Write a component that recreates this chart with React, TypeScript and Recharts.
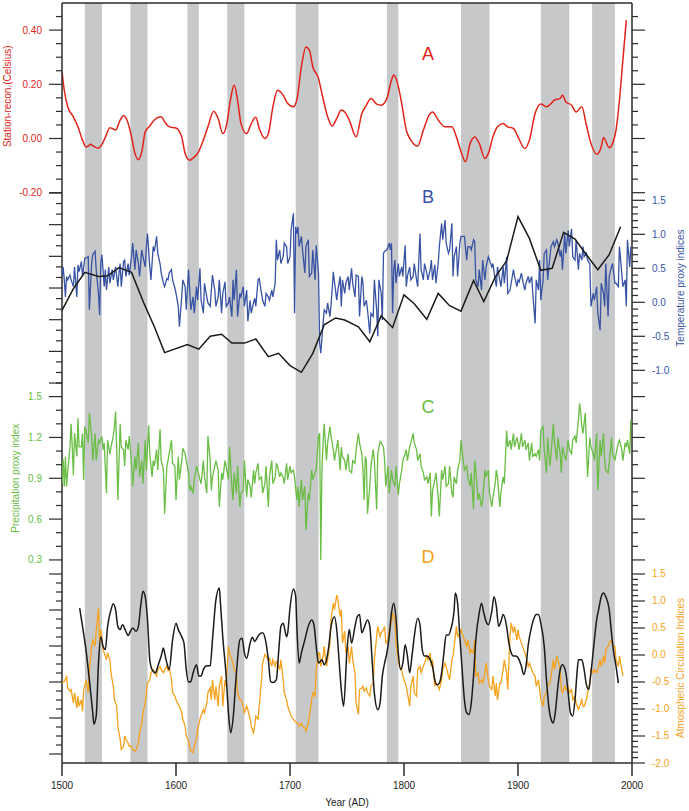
import React from "react";
import {
  ComposedChart,
  Line,
  XAxis,
  YAxis,
  ReferenceArea,
  ReferenceLine,
  ReferenceDot,
} from "recharts";

const WIDTH = 689;
const HEIGHT = 811;
const FONT = "'Liberation Sans', Arial, Helvetica, sans-serif";
const AXIS = "#2b2b2b";
const RED = "#e2231a";
const BLUE = "#3853a3";
const GREEN = "#6abd45";
const ORANGE = "#f5a21c";
const BLACK = "#1b1b1b";
const BAND = "#c7c8ca";

// ---- data: [year, value] ----
const stationRecon = [
  [1500, 0.246], [1502, 0.178], [1505, 0.117], [1510, 0.08], [1514, 0.043], [1518, -0.006], [1521, -0.031],
  [1523, -0.028], [1525, -0.021], [1527, -0.027], [1532, -0.036], [1534, -0.028], [1538, 0.004], [1542, 0.04],
  [1544, 0.037], [1547, 0.031], [1551, 0.068], [1554, 0.084], [1557, 0.068], [1561, 0.006], [1564, -0.055],
  [1567, -0.078], [1570, -0.049], [1573, 0.025], [1577, 0.046], [1581, 0.068], [1587, 0.08], [1590, 0.062],
  [1594, 0.043], [1600, 0.039], [1605, 0.006], [1608, -0.055], [1612, -0.08], [1616, -0.068], [1619, -0.055],
  [1624, -0.006], [1628, 0.043], [1633, 0.101], [1637, 0.074], [1641, 0.018], [1644, 0.043], [1648, 0.148],
  [1651, 0.197], [1654, 0.142], [1657, 0.055], [1662, 0.018], [1666, 0.055], [1670, 0.078], [1673, 0.037],
  [1678, 0], [1681, 0.018], [1685, 0.117], [1689, 0.178], [1694, 0.16], [1698, 0.129], [1703, 0.117],
  [1706, 0.142], [1710, 0.265], [1714, 0.338], [1717, 0.326], [1720, 0.265], [1725, 0.222], [1728, 0.166],
  [1733, 0.08], [1737, 0.046], [1741, 0.074], [1745, 0.105], [1748, 0.098], [1752, 0.068], [1758, 0.006],
  [1763, 0.092], [1767, 0.123], [1771, 0.148], [1776, 0.127], [1780, 0.123], [1785, 0.148], [1789, 0.215],
  [1791, 0.234], [1794, 0.209], [1798, 0.129], [1802, 0.031], [1806, -0.006], [1812, -0.028], [1817, 0.031],
  [1822, 0.086], [1825, 0.098], [1830, 0.068], [1836, 0.043], [1842, 0.043], [1846, 0.006], [1850, -0.049],
  [1854, -0.086], [1858, -0.018], [1862, 0.006], [1866, -0.018], [1871, -0.074], [1874, -0.055], [1878, 0.006],
  [1882, 0.043], [1887, 0.055], [1891, 0.043], [1896, 0.037], [1900, 0.006], [1906, -0.037], [1910, -0.006],
  [1915, 0.092], [1920, 0.127], [1925, 0.117], [1929, 0.129], [1932, 0.142], [1937, 0.148], [1939, 0.16],
  [1942, 0.135], [1947, 0.123], [1951, 0.098], [1956, 0.117], [1960, 0.049], [1964, -0.018], [1969, -0.058],
  [1973, -0.031], [1975, 0.004], [1980, -0.034], [1983, -0.018], [1986, 0.031], [1989, 0.142], [1992, 0.289],
  [1995, 0.437],
];

const tempProxy = [
  [1500, 0.38], [1501, 0.52], [1502, 0.33], [1503, 0.08], [1504, 0.38], [1505, 0.33], [1507, 0.4], [1508, 0.33],
  [1510, 0.23], [1511, 0.52], [1513, 0.08], [1514, 0.55], [1515, 0.45], [1517, 0.6], [1518, 0.38], [1520, 0.65],
  [1521, 0.65], [1523, 0.67], [1524, -0.11], [1526, 0.57], [1527, 0.7], [1529, 0.75], [1530, 0.48], [1532, 0.13],
  [1533, -0.19], [1534, 0.57], [1535, 0.7], [1537, 0.23], [1538, 0.48], [1539, 0.18], [1541, 0.52], [1542, 0.28],
  [1544, 0.48], [1545, 0.33], [1547, 0.52], [1549, 0.23], [1550, 0.43], [1551, 0.57], [1552, 0.23], [1554, 0.6],
  [1555, 0.62], [1556, 0.38], [1558, 0.57], [1559, 0.4], [1561, 0.67], [1562, 0.87], [1564, 0.48], [1565, 0.77],
  [1567, 0.57], [1568, 0.38], [1570, 0.77], [1571, 0.67], [1573, 0.52], [1574, 0.82], [1575, 1.01], [1577, 0.52],
  [1578, 0.33], [1580, 0.82], [1581, 0.75], [1583, 0.97], [1584, 0.72], [1586, 0.57], [1587, 0.43], [1589, 0.28],
  [1590, 0.23], [1592, 0.35], [1593, 0.33], [1594, 0.43], [1596, 0.48], [1597, 0.33], [1599, 0.21], [1600, 0.13],
  [1602, -0.06], [1603, -0.36], [1605, 0.08], [1606, 0.33], [1608, 0.23], [1609, -0.11], [1611, 0.48], [1612, 0.18],
  [1613, -0.11], [1615, 0.08], [1616, -0.16], [1618, 0.23], [1619, 0.03], [1621, 0.5], [1622, 0.03], [1624, -0.16],
  [1625, 0.28], [1627, 0.08], [1628, -0.01], [1630, -0.06], [1631, 0.18], [1632, 0.4], [1634, 0.18], [1635, -0.06],
  [1637, 0.08], [1638, 0.33], [1640, -0.16], [1641, 0.13], [1643, 0.3], [1644, -0.06], [1646, -0.01], [1647, 0.08],
  [1649, -0.21], [1650, 0.33], [1651, 0.03], [1653, 0.48], [1654, -0.21], [1656, 0.13], [1657, 0.08], [1659, 0.23],
  [1660, -0.06], [1662, 0.18], [1663, -0.28], [1665, 0.03], [1666, -0.16], [1668, -0.01], [1669, 0.06], [1670, -0.06],
  [1672, 0.33], [1673, 0.35], [1675, 0.13], [1676, 0.03], [1678, -0.06], [1679, 0.13], [1681, 0.08], [1682, 0.03],
  [1684, 0.18], [1685, 0.08], [1687, 0.28], [1688, 0.92], [1689, 0.62], [1691, 0.77], [1692, 0.57], [1694, 0.67],
  [1695, 0.87], [1697, 0.82], [1698, 0.57], [1700, 0.67], [1701, 1.06], [1703, 1.31], [1704, -0.16], [1705, 1.11],
  [1706, 1.01], [1707, 1.11], [1708, 0.82], [1710, 0.97], [1711, 0.77], [1713, 0.43], [1714, 0.82], [1716, 0.92],
  [1717, 0.38], [1719, 0.43], [1720, 0.77], [1722, 0.33], [1723, 0.84], [1725, 0.43], [1726, -0.6], [1727, -0.75],
  [1729, -0.31], [1730, -0.11], [1732, -0.16], [1733, -0.01], [1735, -0.21], [1736, -0.04], [1738, 0.45], [1739, 0.3],
  [1741, 0.03], [1742, 0.18], [1744, 0.38], [1745, -0.06], [1746, 0.33], [1748, 0.13], [1749, 0.28], [1751, 0.38],
  [1752, 0.18], [1754, 0.5], [1755, 0.28], [1757, 0.08], [1758, 0.4], [1760, 0.38], [1761, -0.21], [1763, 0.38],
  [1764, 0.28], [1765, -0.06], [1767, 0.03], [1768, -0.11], [1770, -0.46], [1771, -0.16], [1773, -0.21], [1774, 0.33],
  [1776, -0.11], [1777, -0.5], [1778, 0.33], [1780, 0.13], [1781, -0.26], [1782, 0.72], [1783, 0.75], [1785, 0.77],
  [1786, 0.82], [1787, 0.87], [1788, 0.77], [1789, 0.87], [1790, -0.16], [1791, 0.48], [1792, 0.62], [1793, 0.28],
  [1795, 0.57], [1796, 0.38], [1798, 0.52], [1799, 0.38], [1801, 0.84], [1802, 0.23], [1803, 0.38], [1805, 0.52],
  [1806, 0.33], [1808, 0.38], [1809, 0.57], [1811, 0.33], [1812, 0.23], [1814, 1.01], [1815, 0.48], [1817, 0.33],
  [1818, 0.57], [1820, 0.43], [1821, 0.33], [1823, 0.48], [1824, 0.62], [1825, 0.33], [1827, 0.55], [1828, 0.28],
  [1830, 0.57], [1831, 0.82], [1833, 1.16], [1834, 0.92], [1836, 1.21], [1837, 0.87], [1839, 0.72], [1840, 0.77],
  [1842, 1.16], [1843, 0.38], [1844, 0.67], [1846, 0.82], [1847, 0.38], [1849, 0.87], [1850, 0.97], [1852, 0.97],
  [1853, 0.97], [1855, 0.62], [1856, 0.82], [1858, 0.82], [1859, 0.77], [1861, 0.92], [1862, 0.89], [1863, 0.33],
  [1865, 0.23], [1866, 0.48], [1868, 0.18], [1869, 0.62], [1871, 0.33], [1872, 0.52], [1874, 0.67], [1875, 0.62],
  [1877, 0.52], [1878, 0.57], [1880, 0.33], [1881, 0.23], [1882, 0.52], [1884, 0.33], [1885, 0.23], [1887, 0.52],
  [1888, 0.28], [1890, 0.67], [1891, 0.13], [1893, 0.18], [1894, 0.28], [1896, 0.48], [1897, 0.38], [1899, 0.23],
  [1900, 0.33], [1901, 0.3], [1903, 0.43], [1904, 0.33], [1906, 0.18], [1907, 0.28], [1909, 0.38], [1910, 0.28],
  [1912, 0.38], [1913, 0.13], [1915, -0.31], [1916, 0.33], [1918, 0.18], [1919, 0.62], [1920, 0.03], [1922, 0.33],
  [1923, 0.72], [1925, 0.77], [1926, 0.33], [1928, 0.67], [1929, 0.82], [1931, 0.89], [1932, 0.82], [1934, 0.92],
  [1935, 0.87], [1937, 0.67], [1938, 0.77], [1939, 0.48], [1941, 1.01], [1942, 0.72], [1944, 1.06], [1945, 0.82],
  [1947, 1.08], [1948, 0.67], [1950, 0.62], [1951, 0.92], [1953, 0.48], [1954, 0.72], [1956, 0.62], [1957, 0.82],
  [1958, 0.67], [1960, 0.72], [1961, 0.62], [1963, 0.57], [1964, -0.06], [1966, 0.13], [1967, 0.03], [1969, 0.23],
  [1970, -0.16], [1972, -0.41], [1973, 0.28], [1975, 0.13], [1976, -0.06], [1977, 0.57], [1979, -0.21], [1980, 0.38],
  [1982, 0.52], [1983, 0.57], [1985, 0.28], [1986, 0.28], [1988, 0.23], [1989, 0.82], [1991, 0.43], [1992, 0.23],
  [1994, 0.33], [1995, -0.06], [1996, 0.92], [1998, 0.52], [1999, 0.82],
];

const tempBlack = [
  [1500, -0.12], [1510, 0.2], [1520, 0.44], [1532, 0.38], [1540, 0.39], [1550, 0.51], [1561, 0.44], [1572, -0.02],
  [1581, -0.36], [1590, -0.74], [1610, -0.62], [1620, -0.69], [1630, -0.5], [1640, -0.47], [1649, -0.6], [1660, -0.6],
  [1670, -0.54], [1681, -0.8], [1690, -0.75], [1700, -0.93], [1710, -1.03], [1720, -0.75], [1730, -0.33], [1740, -0.23],
  [1748, -0.26], [1760, -0.36], [1770, -0.58], [1780, -0.2], [1790, -0.37], [1800, 0.11], [1809, -0.02], [1820, -0.25],
  [1830, 0.13], [1840, -0.05], [1850, -0.13], [1861, 0.32], [1870, 0.01], [1880, 0.37], [1890, 0.61], [1900, 1.26],
  [1910, 0.94], [1920, 0.47], [1930, 0.5], [1940, 1.03], [1950, 0.93], [1960, 0.7], [1970, 0.48], [1980, 0.7],
  [1990, 1.11],
];

const precipProxy = [
  [1500, 0.86], [1501, 1.04], [1502, 0.84], [1503, 1.06], [1504, 0.84], [1505, 0.95], [1507, 1.13], [1508, 1.3],
  [1509, 1.13], [1510, 0.92], [1511, 1.23], [1513, 1.06], [1514, 1.34], [1515, 1.13], [1517, 1.13], [1518, 1.23],
  [1519, 0.89], [1520, 1.28], [1521, 1.25], [1523, 1.16], [1524, 1.38], [1526, 1.21], [1527, 1.03], [1529, 1.23],
  [1530, 1.03], [1532, 1.18], [1533, 1.16], [1535, 1.21], [1536, 1.11], [1537, 1.16], [1539, 0.79], [1540, 1.18],
  [1542, 1.08], [1543, 1.13], [1545, 1.21], [1546, 1.28], [1547, 1.39], [1548, 1.11], [1549, 0.74], [1551, 1.3],
  [1552, 1.13], [1554, 1.11], [1555, 0.99], [1556, 1.18], [1558, 1.11], [1559, 1.21], [1561, 1.01], [1562, 0.84],
  [1564, 1.06], [1565, 0.96], [1567, 1.16], [1568, 0.91], [1570, 1.03], [1571, 0.86], [1573, 1.18], [1574, 0.96],
  [1576, 1.29], [1577, 1.08], [1579, 0.91], [1580, 1.03], [1581, 0.99], [1583, 1.11], [1584, 0.96], [1586, 1.26],
  [1587, 1.03], [1589, 0.96], [1590, 0.64], [1592, 0.99], [1593, 1.03], [1594, 1.08], [1596, 1.18], [1597, 1.01],
  [1599, 0.99], [1600, 0.74], [1602, 1.06], [1603, 0.89], [1605, 1.03], [1606, 1.12], [1608, 1.08], [1609, 1.03],
  [1611, 0.94], [1612, 0.81], [1613, 0.84], [1615, 0.79], [1616, 0.89], [1618, 0.99], [1619, 0.96], [1621, 0.89],
  [1622, 0.86], [1624, 1.03], [1625, 0.91], [1627, 0.79], [1628, 1.21], [1630, 1.03], [1631, 0.81], [1632, 0.91],
  [1634, 0.99], [1635, 1.03], [1637, 0.96], [1638, 0.69], [1640, 0.94], [1641, 0.89], [1643, 1.03], [1644, 0.99],
  [1646, 0.89], [1647, 1.13], [1649, 0.84], [1650, 0.74], [1651, 0.94], [1653, 0.79], [1654, 0.99], [1656, 0.69],
  [1657, 0.79], [1659, 0.81], [1660, 1.03], [1662, 0.76], [1663, 0.89], [1665, 0.84], [1666, 0.76], [1668, 0.96],
  [1669, 0.86], [1670, 0.94], [1672, 1.01], [1673, 0.89], [1675, 0.91], [1676, 0.79], [1678, 0.86], [1679, 0.99],
  [1681, 0.69], [1682, 0.91], [1684, 1.03], [1685, 0.86], [1687, 0.91], [1688, 1.01], [1689, 0.99], [1691, 0.91],
  [1692, 0.94], [1694, 0.91], [1695, 0.86], [1697, 1.01], [1698, 0.89], [1700, 0.99], [1701, 0.94], [1703, 0.96],
  [1704, 0.91], [1706, 0.74], [1707, 0.84], [1708, 0.69], [1710, 0.89], [1711, 0.74], [1713, 0.84], [1714, 0.52],
  [1716, 0.79], [1717, 0.74], [1719, 0.96], [1720, 0.89], [1722, 0.94], [1723, 0.96], [1725, 1.21], [1726, 1.23],
  [1727, 0.3], [1728, 0.96], [1729, 1.16], [1730, 1.3], [1732, 1.03], [1733, 1.16], [1735, 1.28], [1736, 1.21],
  [1738, 1.11], [1739, 1.03], [1741, 1.13], [1742, 1.18], [1744, 0.96], [1745, 1.13], [1746, 1.06], [1748, 1.03],
  [1749, 0.96], [1751, 1.08], [1752, 0.96], [1754, 0.94], [1755, 1.03], [1757, 1.01], [1758, 1.11], [1760, 1.23],
  [1761, 1.16], [1763, 1.08], [1764, 0.96], [1765, 0.74], [1766, 1.06], [1767, 1.03], [1768, 0.64], [1770, 0.84],
  [1771, 0.99], [1773, 1.11], [1774, 1.03], [1776, 0.67], [1777, 1.08], [1779, 1.17], [1780, 1.16], [1782, 1.13],
  [1783, 1.03], [1784, 0.84], [1786, 0.99], [1787, 0.79], [1789, 0.96], [1790, 0.89], [1792, 0.84], [1793, 0.99],
  [1795, 0.78], [1796, 0.86], [1798, 0.96], [1799, 1.03], [1801, 1.08], [1802, 1.11], [1803, 1.03], [1805, 1.13],
  [1806, 1.16], [1808, 1.23], [1809, 1.16], [1811, 1.11], [1812, 1.03], [1814, 1.08], [1815, 0.99], [1817, 0.94],
  [1818, 0.89], [1820, 0.91], [1821, 0.86], [1823, 0.94], [1824, 0.62], [1825, 0.81], [1827, 0.89], [1828, 0.94],
  [1830, 0.76], [1831, 0.62], [1833, 0.96], [1834, 0.89], [1836, 0.99], [1837, 0.84], [1839, 0.86], [1840, 0.99],
  [1842, 0.79], [1843, 0.76], [1844, 0.91], [1846, 0.86], [1847, 0.96], [1849, 1.03], [1850, 1.18], [1852, 1.03],
  [1853, 0.96], [1855, 0.99], [1856, 0.91], [1858, 0.84], [1859, 0.94], [1861, 0.67], [1862, 1.03], [1863, 0.96],
  [1865, 0.74], [1866, 0.79], [1868, 0.69], [1869, 0.74], [1871, 0.96], [1872, 0.91], [1874, 0.96], [1875, 0.79],
  [1877, 0.69], [1878, 0.76], [1880, 0.86], [1881, 0.96], [1882, 0.91], [1884, 0.69], [1885, 0.79], [1887, 0.91],
  [1888, 0.86], [1890, 1.25], [1891, 1.13], [1893, 1.18], [1894, 1.11], [1896, 1.23], [1897, 1.13], [1899, 1.2],
  [1900, 1.16], [1901, 1.11], [1903, 1.23], [1904, 1.13], [1906, 1.18], [1907, 1.11], [1909, 1.16], [1910, 1.03],
  [1912, 1.16], [1913, 1.06], [1915, 1.08], [1916, 1.06], [1918, 1.11], [1919, 1.03], [1920, 1.25], [1922, 1.28],
  [1923, 1.11], [1925, 0.94], [1926, 1.2], [1928, 0.99], [1929, 1.08], [1931, 1.3], [1932, 1.16], [1934, 1.03],
  [1935, 1.2], [1937, 1.08], [1938, 0.94], [1939, 1.13], [1941, 1.06], [1942, 1.03], [1944, 1.18], [1945, 1.11],
  [1947, 1.08], [1948, 1.18], [1950, 1.21], [1951, 1.16], [1953, 1.33], [1954, 1.45], [1955, 1.38], [1956, 1.28],
  [1957, 1.23], [1959, 1.38], [1960, 1.16], [1961, 0.91], [1963, 1.2], [1964, 1.13], [1966, 1.08], [1967, 1.03],
  [1969, 1.23], [1970, 0.81], [1972, 1.18], [1973, 1.06], [1975, 1.23], [1976, 1.03], [1977, 0.96], [1979, 0.94],
  [1980, 1.01], [1982, 1.2], [1983, 1.08], [1985, 1.03], [1986, 1.08], [1988, 1.16], [1989, 1.18], [1991, 1.11],
  [1992, 1.03], [1994, 1.16], [1995, 1.13], [1996, 1.18], [1998, 1.08], [1999, 1.33],
];

const circIndex = [
  [1500, -0.52], [1502, -0.49], [1504, -0.4], [1505, -0.61], [1507, -0.67], [1508, -0.64], [1510, -0.89], [1511, -0.7],
  [1513, -0.98], [1514, -0.76], [1515, -0.95], [1517, -0.83], [1518, -1.04], [1519, -0.64], [1520, -0.58], [1521, -0.46],
  [1523, -0.7], [1524, -0.27], [1526, 0.16], [1527, 0.28], [1529, 0.16], [1530, 0.44], [1532, 0.87], [1533, 0.22],
  [1534, 0.47], [1535, 0.31], [1536, 0.1], [1537, 0.04], [1539, -0.09], [1540, 0.04], [1542, -0.09], [1543, -0.33],
  [1545, -0.58], [1546, -0.83], [1548, -0.95], [1549, -1.32], [1551, -1.56], [1552, -1.75], [1554, -1.69], [1555, -1.5],
  [1556, -1.56], [1558, -1.63], [1559, -1.69], [1561, -1.69], [1562, -1.75], [1564, -1.78], [1565, -1.75], [1567, -1.63],
  [1568, -1.44], [1570, -1.26], [1571, -1.07], [1573, -0.89], [1574, -0.7], [1575, -0.52], [1577, -0.46], [1578, -0.33],
  [1580, -0.27], [1581, -0.33], [1583, -0.39], [1584, -0.27], [1586, -0.21], [1587, -0.27], [1589, -0.33], [1590, -0.27],
  [1592, -0.21], [1593, -0.3], [1594, -0.21], [1596, -0.46], [1597, -0.7], [1599, -0.76], [1600, -0.83], [1602, -0.92],
  [1603, -0.95], [1605, -1.07], [1606, -1.19], [1608, -1.32], [1609, -1.5], [1611, -1.59], [1612, -1.72], [1613, -1.78],
  [1615, -1.81], [1616, -1.69], [1618, -1.56], [1619, -1.38], [1621, -1.19], [1622, -1.13], [1624, -1.01], [1625, -1.07],
  [1627, -0.89], [1628, -0.7], [1630, -0.61], [1631, -0.83], [1632, -0.46], [1634, -0.83], [1635, -0.58], [1637, -0.95],
  [1638, -0.58], [1640, -0.39], [1641, -0.95], [1643, -0.46], [1644, -0.58], [1646, 0.16], [1647, 0.04], [1649, -0.09],
  [1650, -0.15], [1651, -0.27], [1653, -0.33], [1654, -0.7], [1656, -0.83], [1657, -0.83], [1659, -0.95], [1660, -1.07],
  [1662, -0.95], [1663, -1.01], [1665, -1.19], [1666, -1.32], [1668, -1.44], [1669, -1.32], [1670, -1.13], [1672, -1.19],
  [1673, -0.95], [1675, -0.46], [1676, -0.15], [1678, 0.01], [1679, -0.02], [1681, -0.09], [1682, -0.06], [1684, -0.21],
  [1685, -0.09], [1687, -0.21], [1688, -0.12], [1689, -0.15], [1691, -0.27], [1692, -0.09], [1694, -0.46], [1695, -0.7],
  [1697, -0.83], [1698, -0.95], [1700, -1.07], [1701, -1.13], [1703, -1.19], [1704, -1.22], [1706, -1.26], [1707, -1.26],
  [1708, -1.32], [1710, -1.26], [1711, -1.32], [1713, -1.35], [1714, -1.41], [1716, -1.26], [1717, -1.13], [1719, -0.83],
  [1720, -0.7], [1722, -0.76], [1723, -0.27], [1725, 0.04], [1726, 0.04], [1727, -0.21], [1729, -0.02], [1730, 0.16],
  [1732, -0.21], [1733, -0.09], [1735, 0.22], [1736, 0.65], [1738, 0.96], [1739, 0.84], [1741, 1.11], [1742, 1.02],
  [1744, 0.71], [1745, 0.84], [1746, 0.22], [1748, 0.44], [1749, 0.04], [1751, 0.16], [1752, -0.15], [1754, 0.16],
  [1755, -0.09], [1757, -0.33], [1758, -0.89], [1760, -1.1], [1761, -0.64], [1763, -0.61], [1764, -0.58], [1765, -0.67],
  [1767, -0.61], [1768, -0.7], [1770, -0.76], [1771, -0.58], [1773, -0.52], [1774, -0.09], [1776, 0.34], [1777, 0.53],
  [1779, 0.34], [1780, 0.41], [1782, 0.47], [1783, 0.53], [1784, 0.22], [1786, 0.28], [1787, 0.47], [1789, 0.59],
  [1790, 0.78], [1792, 0.65], [1793, 0.22], [1795, -0.09], [1796, -0.21], [1798, -0.27], [1799, -0.39], [1801, -0.52],
  [1802, -0.58], [1803, -0.7], [1805, -0.95], [1806, -0.58], [1808, -0.39], [1809, -0.7], [1811, -0.76], [1812, -0.27],
  [1814, -0.21], [1815, -0.33], [1817, -0.21], [1818, -0.15], [1820, -0.02], [1821, -0.09], [1823, 0.04], [1824, -0.21],
  [1825, -0.09], [1827, -0.58], [1828, -0.52], [1830, -0.58], [1831, -0.64], [1833, -0.46], [1834, -0.27], [1836, -0.15],
  [1837, -0.21], [1839, -0.39], [1840, -0.46], [1842, -0.09], [1843, -0.02], [1844, 0.16], [1846, 0.53], [1847, 0.34],
  [1849, 0.41], [1850, 0.47], [1852, 0.34], [1853, 0.28], [1855, 0.16], [1856, 0.28], [1858, 0.04], [1859, 0.1],
  [1861, 0.04], [1862, 0.28], [1863, -0.39], [1865, -0.33], [1866, -0.52], [1868, -0.46], [1869, -0.52], [1871, -0.33],
  [1872, -0.15], [1874, -0.46], [1875, -0.58], [1877, -0.64], [1878, -0.39], [1880, -0.76], [1881, -0.52], [1882, -0.83],
  [1884, -0.52], [1885, -0.52], [1887, -0.27], [1888, -0.09], [1890, -0.33], [1891, -0.64], [1893, 0.34], [1894, 0.59],
  [1896, 0.41], [1897, 0.53], [1899, 0.28], [1900, 0.47], [1901, 0.34], [1903, 0.22], [1904, 0.16], [1906, 0.04],
  [1907, -0.02], [1909, -0.21], [1910, -0.15], [1912, -0.27], [1913, -0.33], [1915, -0.39], [1916, -0.58], [1918, -0.46],
  [1919, -0.64], [1920, -0.83], [1922, -0.95], [1923, -0.76], [1925, -0.7], [1926, -0.58], [1928, -0.52], [1929, -0.39],
  [1931, -0.09], [1932, -0.27], [1934, -0.02], [1935, -0.09], [1937, -0.27], [1938, -0.64], [1939, -0.7], [1941, -0.58],
  [1942, -0.64], [1944, -0.58], [1945, -0.7], [1947, -0.64], [1948, -0.83], [1950, -0.76], [1951, -0.89], [1953, -1.01],
  [1954, -0.95], [1956, -0.83], [1957, -0.95], [1958, -0.95], [1960, -0.83], [1961, -0.7], [1963, -0.52], [1964, -0.27],
  [1966, -0.33], [1967, -0.27], [1969, -0.33], [1970, -0.27], [1972, -0.09], [1973, -0.21], [1975, -0.02], [1976, -0.15],
  [1977, 0.1], [1979, 0.16], [1980, 0.22], [1982, 0.28], [1983, 0.16], [1985, 0.16], [1986, -0.09], [1988, -0.21],
  [1989, -0.02], [1991, -0.27], [1992, -0.39],
];

const circBlack = [
  [1515.5, 0.87], [1518, 0.53], [1521, 0.1], [1524, -0.46], [1527, -1.07], [1528, -1.28], [1530, -1.13], [1532, -0.15],
  [1534, 0.34], [1536, 0.16], [1538, 0.1], [1540, 0.53], [1543, 0.84], [1545, 0.95], [1547, 0.84], [1549, 0.53],
  [1551, 0.47], [1553, 0.56], [1556, 0.44], [1558, 0.36], [1560, 0.44], [1562, 0.5], [1565, 0.44], [1567, 0.53],
  [1569, 0.9], [1571, 1.18], [1573, 1.08], [1575, 0.65], [1577, -0.09], [1579, -0.27], [1582, -0.33], [1584, -0.21],
  [1587, -0.02], [1589, 0.13], [1590, 0.04], [1592, -0.15], [1594, -0.27], [1597, 0.28], [1600, 0.59], [1602, 0.47],
  [1605, 0.34], [1607, 0.22], [1609, -0.27], [1611, -0.5], [1613, -0.49], [1615, -0.33], [1618, -0.18], [1620, -0.39],
  [1622, -0.39], [1624, -0.27], [1627, -0.2], [1630, -0.2], [1632, 0.28], [1635, 1.02], [1638, 1.24], [1639, 0.96],
  [1641, 0.34], [1644, -0.39], [1646, -1.07], [1648, -1.44], [1650, -1.19], [1653, -0.33], [1656, 0.28], [1658, 0.31],
  [1660, 0.04], [1662, -0.06], [1665, 0.22], [1667, 0.33], [1669, 0.25], [1671, 0.31], [1673, 0.38], [1676, 0.41],
  [1679, 0.22], [1681, -0.09], [1683, -0.49], [1685, -0.51], [1688, -0.46], [1690, 0.04], [1692, 0.53], [1694, 0.59],
  [1697, 0.34], [1698, 0.41], [1700, 0.87], [1703, 1.22], [1705, 1.08], [1706, 0.53], [1708, -0.15], [1710, 0.04],
  [1713, 0.28], [1716, 0.53], [1719, 0.65], [1721, 0.56], [1723, 0.16], [1725, -0.15], [1728, -0.09], [1730, -0.18],
  [1732, -0.09], [1734, 0.16], [1736, 0.53], [1739, 0.71], [1741, 0.47], [1743, -0.09], [1745, -0.64], [1747, -0.95],
  [1750, 0.09], [1752, 0.47], [1754, 0.22], [1757, 0.53], [1759, 0.71], [1761, 0.75], [1763, 0.41], [1765, 0.5],
  [1768, 0.65], [1770, 0.53], [1772, -0.09], [1774, -0.7], [1777, -1.01], [1779, -0.89], [1781, -0.39], [1783, -0.15],
  [1785, 0.04], [1787, 0.34], [1789, 0.78], [1791, 0.96], [1793, 0.68], [1795, 0.04], [1797, -0.27], [1799, -0.15],
  [1801, 0.19], [1803, -0.02], [1805, -0.33], [1807, -0.02], [1809, 0.34], [1812, 0.68], [1814, 0.56], [1816, 0.1],
  [1818, -0.02], [1820, -0.02], [1823, -0.09], [1825, -0.21], [1827, -0.46], [1829, -0.55], [1831, -0.52], [1833, -0.33],
  [1835, 0.04], [1837, 0.37], [1839, 0.37], [1841, 0.47], [1844, 0.84], [1845, 1.15], [1847, 0.96], [1849, 0.34],
  [1851, -0.27], [1853, -0.83], [1855, -1.07], [1857, -1.1], [1859, -0.89], [1861, -0.39], [1863, 0.28], [1866, 0.78],
  [1868, 0.96], [1870, 0.78], [1872, 0.62], [1874, 0.56], [1877, 0.81], [1879, 1.08], [1881, 0.9], [1883, 0.53],
  [1885, 0.62], [1887, 0.75], [1890, 0.53], [1892, 0.22], [1894, 0.04], [1896, -0.02], [1898, -0.02], [1901, -0.09],
  [1903, -0.21], [1905, -0.36], [1907, -0.21], [1909, 0.19], [1912, 0.53], [1914, 0.68], [1916, 0.75], [1918, 0.75],
  [1920, 0.59], [1923, 0.16], [1925, -0.46], [1927, -0.95], [1929, -1.19], [1931, -1.26], [1933, -1.01], [1935, -0.58],
  [1937, -0.27], [1939, -0.18], [1942, -0.33], [1944, -0.7], [1946, -1.07], [1948, -1.13], [1950, -0.83], [1952, -0.27],
  [1953, -0.09], [1956, -0.09], [1958, -0.27], [1960, -0.55], [1962, -0.64], [1964, -0.33], [1967, 0.28], [1969, 0.65],
  [1971, 0.87], [1973, 1.08], [1975, 1.15], [1977, 1.08], [1980, 0.84], [1982, 0.41], [1984, 0.04], [1986, -0.21],
  [1988, -0.52],
];

// shaded periods [start, end]
const bands = [
  [1520, 1535], [1560, 1575], [1610, 1620], [1645, 1660], [1705, 1725],
  [1785, 1795], [1850, 1875], [1920, 1945], [1965, 1985],
];

// ---- ticks ----
const yearTicks = [1500, 1600, 1700, 1800, 1900, 2000];
const redTicks = [0.45, 0.4, 0.35, 0.3, 0.25, 0.2, 0.15, 0.1, 0.05, 0, -0.05, -0.1, -0.15, -0.2];
const redMajor = [0.4, 0.2, 0, -0.2];
const blueTicks = [1.5, 1.4, 1.3, 1.2, 1.1, 1, 0.9, 0.8, 0.7, 0.6, 0.5, 0.4, 0.3, 0.2, 0.1, 0,
  -0.1, -0.2, -0.3, -0.4, -0.5, -0.6, -0.7, -0.8, -0.9, -1];
const blueMajor = [1.5, 1, 0.5, 0, -0.5, -1];
const tempLeftTicks = [0.9, 0.8, 0.7, 0.6, 0.5, 0.4, 0.3, 0.2, 0.1, 0, -0.1, -0.2, -0.3, -0.4, -0.5, -0.6, -0.7, -0.8, -0.9];
const tempLeftMajor = [0.9, 0.6, 0.3, 0, -0.3, -0.6, -0.9];
const greenTicks = [1.6, 1.5, 1.4, 1.3, 1.2, 1.1, 1, 0.9, 0.8, 0.7, 0.6, 0.5, 0.4, 0.3];
const greenMajor = [1.5, 1.2, 0.9, 0.6, 0.3];
const orangeTicks = [1.5, 1.4, 1.3, 1.2, 1.1, 1, 0.9, 0.8, 0.7, 0.6, 0.5, 0.4, 0.3, 0.2, 0.1, 0,
  -0.1, -0.2, -0.3, -0.4, -0.5, -0.6, -0.7, -0.8, -0.9, -1, -1.1, -1.2, -1.3, -1.4, -1.5, -1.6, -1.7, -1.8, -1.9, -2];
const orangeMajor = [1.5, 1, 0.5, 0, -0.5, -1, -1.5, -2];
const circLeftTicks = [2, 1.75, 1.5, 1.25, 1, 0.75, 0.5, 0.25, 0, -0.25, -0.5, -0.75, -1, -1.25, -1.5, -1.75, -2, -2.25, -2.5, -2.75, -3];
const circLeftMajor = [2, 1, 0, -1, -2, -3];

// axis domains: each panel shares the full plot height
const domA = [-2.3044, 0.5];
const domB = [-6.775, 4.4015];
const domBLeft = [-4.498, 2.699];
const domC = [-1.192, 4.392];
const domD = [-2, 12.074];
const domDLeft = [-3.25, 17.861];

const rows = (pairs: number[][]) => pairs.map(([year, v]) => ({ year, v }));

const makeTick = (side: "left" | "right", majors: number[], color?: string, digits = 1) => (props: any) => {
  const { x, y, payload } = props;
  const value = Number(payload.value);
  const major = majors.some((m) => Math.abs(m - value) < 1e-6);
  const dir = side === "left" ? -1 : 1;
  const len = major ? 13 : 6;
  return (
    <g>
      <line x1={x} y1={y} x2={x + dir * len} y2={y} stroke={AXIS} strokeWidth={1.2} />
      {major && color ? (
        <text
          x={x + dir * 20}
          y={y}
          textAnchor={side === "left" ? "end" : "start"}
          dominantBaseline="central"
          fill={color}
          fontSize={10}
          fontFamily={FONT}
        >
          {value.toFixed(digits)}
        </text>
      ) : null}
    </g>
  );
};

const sideTitle = (text: string, color: string, dx: number) => (props: any) => {
  const vb = props.viewBox || {};
  const x = (vb.x ?? 0) + dx;
  const y = vb.y ?? 0;
  return (
    <text x={x} y={y} transform={`rotate(-90 ${x} ${y})`} textAnchor="middle" dominantBaseline="central"
      fill={color} fontSize={10} fontFamily={FONT}>
      {text}
    </text>
  );
};

const MARGIN = { top: 3, right: 0, bottom: 0, left: 0 };
const layer: React.CSSProperties = { position: "absolute", left: 0, top: 0 };
const letterStyle = (color: string) => ({ position: "center" as const, fill: color, fontSize: 18, fontFamily: FONT });

const App: React.FC = () => (
  <div style={{ position: "absolute", left: 0, top: 0, width: WIDTH, height: HEIGHT, background: "#fff" }}>
    {/* A: station reconstruction + frame + shaded periods */}
    <div style={layer}>
      <ComposedChart width={WIDTH} height={HEIGHT} margin={MARGIN}>
        <XAxis type="number" dataKey="year" domain={[1500, 2000]} allowDataOverflow height={48}
          tick={false} tickLine={false} axisLine={false} />
        <YAxis yAxisId="A" domain={domA} allowDataOverflow width={62} ticks={redTicks} interval={0}
          tickSize={0} tickMargin={0} tickLine={false} stroke={AXIS} strokeWidth={1.5}
          tick={makeTick("left", redMajor, RED, 2)} />
        <YAxis yAxisId="A2" orientation="right" domain={domA} allowDataOverflow width={57} ticks={redTicks} interval={0}
          tickSize={0} tickMargin={0} tickLine={false} stroke={AXIS} strokeWidth={1.5}
          tick={makeTick("right", redMajor)} />
        {bands.map(([a, b]) => (
          <ReferenceArea key={a} yAxisId="A" x1={a} x2={b} fill={BAND} fillOpacity={1} stroke="none" />
        ))}
        <ReferenceLine yAxisId="A" y={domA[1]} stroke={AXIS} strokeWidth={1.5} />
        <Line yAxisId="A" data={rows(stationRecon)} dataKey="v" type="monotone" stroke={RED} strokeWidth={1.5}
          dot={false} activeDot={false} isAnimationActive={false} />
        <ReferenceDot yAxisId="A" x={1821} y={0.315} r={0} fill="none" stroke="none" ifOverflow="visible"
          label={{ value: "A", ...letterStyle(RED) }} />
        <ReferenceDot yAxisId="A" x={1500} y={0.156} r={0} fill="none" stroke="none" ifOverflow="visible"
          label={sideTitle("Station-recon.(Celsius)", RED, -54)} />
      </ComposedChart>
    </div>

    {/* B: temperature proxies */}
    <div style={layer}>
      <ComposedChart width={WIDTH} height={HEIGHT} margin={MARGIN}>
        <XAxis type="number" dataKey="year" domain={[1500, 2000]} allowDataOverflow height={48}
          tick={false} tickLine={false} axisLine={false} />
        <YAxis yAxisId="BL" domain={domBLeft} allowDataOverflow width={62} ticks={tempLeftTicks} interval={0}
          tickSize={0} tickMargin={0} tickLine={false} axisLine={false}
          tick={makeTick("left", tempLeftMajor)} />
        <YAxis yAxisId="B" orientation="right" domain={domB} allowDataOverflow width={57} ticks={blueTicks} interval={0}
          tickSize={0} tickMargin={0} tickLine={false} axisLine={false}
          tick={makeTick("right", blueMajor, BLUE, 1)} />
        <Line yAxisId="B" data={rows(tempProxy)} dataKey="v" type="linear" stroke={BLUE} strokeWidth={1.3}
          dot={false} activeDot={false} isAnimationActive={false} />
        <Line yAxisId="B" data={rows(tempBlack)} dataKey="v" type="linear" stroke={BLACK} strokeWidth={1.5}
          dot={false} activeDot={false} isAnimationActive={false} />
        <ReferenceDot yAxisId="B" x={1821} y={1.553} r={0} fill="none" stroke="none" ifOverflow="visible"
          label={{ value: "B", ...letterStyle(BLUE) }} />
        <ReferenceDot yAxisId="B" x={2000} y={0.21} r={0} fill="none" stroke="none" ifOverflow="visible"
          label={sideTitle("Temperature proxy indices", BLUE, 49)} />
      </ComposedChart>
    </div>

    {/* C: precipitation proxy */}
    <div style={layer}>
      <ComposedChart width={WIDTH} height={HEIGHT} margin={MARGIN}>
        <XAxis type="number" dataKey="year" domain={[1500, 2000]} allowDataOverflow height={48}
          tick={false} tickLine={false} axisLine={false} />
        <YAxis yAxisId="C" domain={domC} allowDataOverflow width={62} ticks={greenTicks} interval={0}
          tickSize={0} tickMargin={0} tickLine={false} axisLine={false}
          tick={makeTick("left", greenMajor, GREEN, 1)} />
        <YAxis yAxisId="C2" orientation="right" domain={domC} allowDataOverflow width={57} ticks={greenTicks} interval={0}
          tickSize={0} tickMargin={0} tickLine={false} axisLine={false}
          tick={makeTick("right", greenMajor)} />
        <Line yAxisId="C" data={rows(precipProxy)} dataKey="v" type="linear" stroke={GREEN} strokeWidth={1.3}
          dot={false} activeDot={false} isAnimationActive={false} />
        <ReferenceDot yAxisId="C" x={1821} y={1.426} r={0} fill="none" stroke="none" ifOverflow="visible"
          label={{ value: "C", ...letterStyle(GREEN) }} />
        <ReferenceDot yAxisId="C" x={1500} y={0.9} r={0} fill="none" stroke="none" ifOverflow="visible"
          label={sideTitle("Precipitation proxy index", GREEN, -46)} />
      </ComposedChart>
    </div>

    {/* D: atmospheric circulation */}
    <div style={layer}>
      <ComposedChart width={WIDTH} height={HEIGHT} margin={MARGIN}>
        <XAxis type="number" dataKey="year" domain={[1500, 2000]} allowDataOverflow height={48}
          ticks={yearTicks} interval={0} tickSize={13} tickMargin={6} stroke={AXIS} strokeWidth={1.5}
          tick={{ fill: "#222", fontSize: 10, fontFamily: FONT }}
          label={{ value: "Year (AD)", position: "insideBottom", offset: 5, fill: "#222", fontSize: 10, fontFamily: FONT }} />
        <YAxis yAxisId="DL" domain={domDLeft} allowDataOverflow width={62} ticks={circLeftTicks} interval={0}
          tickSize={0} tickMargin={0} tickLine={false} axisLine={false}
          tick={makeTick("left", circLeftMajor)} />
        <YAxis yAxisId="D" orientation="right" domain={domD} allowDataOverflow width={57} ticks={orangeTicks} interval={0}
          tickSize={0} tickMargin={0} tickLine={false} axisLine={false}
          tick={makeTick("right", orangeMajor, ORANGE, 1)} />
        <Line yAxisId="D" data={rows(circIndex)} dataKey="v" type="linear" stroke={ORANGE} strokeWidth={1.3}
          dot={false} activeDot={false} isAnimationActive={false} />
        <Line yAxisId="D" data={rows(circBlack)} dataKey="v" type="monotone" stroke={BLACK} strokeWidth={1.5}
          dot={false} activeDot={false} isAnimationActive={false} />
        <ReferenceDot yAxisId="D" x={1821} y={1.815} r={0} fill="none" stroke="none" ifOverflow="visible"
          label={{ value: "D", ...letterStyle(ORANGE) }} />
        <ReferenceDot yAxisId="D" x={2000} y={-0.24} r={0} fill="none" stroke="none" ifOverflow="visible"
          label={sideTitle("Atmospheric Circulation Indices", ORANGE, 49)} />
      </ComposedChart>
    </div>
  </div>
);

export default App;
